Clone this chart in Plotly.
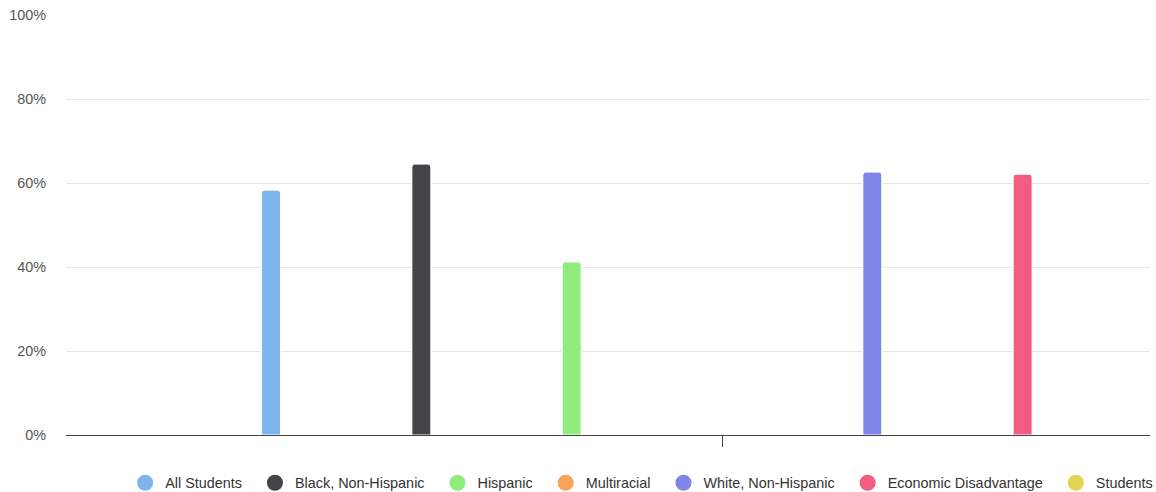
import plotly.graph_objects as go

# ---- data ----
categories = ["All Students", "Black, Non-Hispanic", "Hispanic", "Multiracial",
              "White, Non-Hispanic", "Economic Disadvantage", "Students with Disabilities"]
values = [58.3, 64.5, 41.2, None, 62.6, 62.1, None]
colors = ["#7cb5ec", "#434348", "#90ed7d", "#f7a35c", "#8085e9", "#f15c80", "#e4d354"]
y_ticks = [0, 20, 40, 60, 80, 100]
y_tick_labels = ["0%", "20%", "40%", "60%", "80%", "100%"]

FONT = "Liberation Sans, Arial, Helvetica, sans-serif"
PAD = "\u00a0\u00a0"

fig = go.Figure()
for i, (name, val, col) in enumerate(zip(categories, values, colors)):
    fig.add_trace(go.Bar(
        x=[0], y=[val], name=name, legendgroup=name, showlegend=False,
        offsetgroup=str(i),
        marker=dict(color=col, line=dict(color="white", width=1), cornerradius=3),
        hoverinfo="skip",
    ))
for name, col in zip(categories, colors):
    fig.add_trace(go.Scatter(
        x=[None], y=[None], mode="markers", name=name + PAD, legendgroup=name,
        marker=dict(color=col, size=16, symbol="circle"), hoverinfo="skip",
    ))

W, H = 1400, 492
fig.update_layout(
    width=W, height=H,
    margin=dict(l=66, r=W - 1150, t=15, b=57, autoexpand=False),
    paper_bgcolor="white", plot_bgcolor="white",
    barmode="group", bargap=0.198, bargroupgap=0.874,
    font=dict(family=FONT, size=14.4, color="#333333"),
    showlegend=True,
    legend=dict(orientation="h", x=1.109, xanchor="right", y=-0.114, yanchor="middle",
                font=dict(family=FONT, size=14.4, color="#333333"),
                itemclick=False, itemdoubleclick=False),
    xaxis=dict(range=[-0.5, 0.32622], tickvals=[0], ticktext=[""], ticks="outside",
               ticklen=11, tickcolor="#444444", showline=True, linecolor="#444444",
               linewidth=1, showgrid=False, zeroline=False, fixedrange=True),
    yaxis=dict(range=[0, 100], tickvals=y_ticks, ticktext=y_tick_labels,
               showgrid=True, gridcolor="#e6e6e6", gridwidth=1, zeroline=False,
               ticks="", ticklabelstandoff=19, fixedrange=True,
               tickfont=dict(family=FONT, size=14.4, color="#555555")),
)

fig.write_html("out.html", config={"displayModeBar": False},
               post_script="document.body.style.margin='0';document.body.style.overflow='hidden';")
